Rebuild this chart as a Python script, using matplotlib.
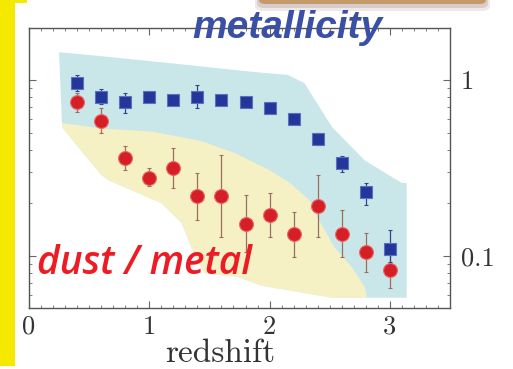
import numpy as np
import matplotlib
matplotlib.use("Agg")
import matplotlib.pyplot as plt
from matplotlib.patches import Rectangle, FancyBboxPatch
from matplotlib.ticker import FixedLocator, MultipleLocator, NullFormatter

# redshift bins
z = [0.4, 0.6, 0.8, 1.0, 1.2, 1.4, 1.6, 1.8, 2.0, 2.2, 2.4, 2.6, 2.8, 3.0]

# metallicity (blue squares) with lower / upper ends of the bars
metal = [0.96, 0.80, 0.75, 0.80, 0.77, 0.80, 0.77, 0.75, 0.69, 0.60, 0.46, 0.34, 0.23, 0.11]
metal_lo = [0.87, 0.73, 0.65, 0.76, 0.72, 0.69, 0.72, 0.70, 0.65, 0.56, 0.43, 0.30, 0.195, 0.093]
metal_hi = [1.07, 0.89, 0.84, 0.84, 0.82, 0.94, 0.82, 0.80, 0.74, 0.64, 0.50, 0.37, 0.26, 0.14]

# dust-to-metal ratio (red circles)
dust = [0.75, 0.585, 0.36, 0.277, 0.316, 0.219, 0.219, 0.152, 0.171, 0.133, 0.192, 0.133, 0.105, 0.083]
dust_lo = [0.658, 0.50, 0.308, 0.25, 0.243, 0.16, 0.128, 0.105, 0.128, 0.099, 0.128, 0.099, 0.081, 0.066]
dust_hi = [0.844, 0.693, 0.422, 0.316, 0.411, 0.296, 0.375, 0.222, 0.228, 0.178, 0.289, 0.183, 0.135, 0.101]

# model envelope for metallicity
band_m_z = [0.25, 0.49, 1.16, 1.875, 2.15, 2.29, 2.52, 2.79, 3.10, 3.14]
band_m_hi = [1.44, 1.39, 1.25, 1.11, 1.07, 0.96, 0.54, 0.35, 0.26, 0.26]

# model envelope for dust / metal
band_d_z_hi = [0.275, 0.60, 1.02, 1.43, 1.71, 1.99, 2.16, 2.33, 2.41, 2.54, 2.68, 2.79, 2.81]
band_d_hi = [0.57, 0.53, 0.51, 0.45, 0.385, 0.31, 0.263, 0.208, 0.16, 0.112, 0.087, 0.067, 0.058]
band_d_z_lo = [0.275, 0.43, 0.60, 0.66, 1.10, 1.27, 1.35, 1.46, 1.74, 1.93, 2.52, 2.81, 3.14]
band_d_lo = [0.54, 0.40, 0.29, 0.27, 0.20, 0.154, 0.112, 0.080, 0.076, 0.068, 0.058, 0.058, 0.058]

yticks = [0.1, 1]
yticklabels = ["0.1", "1"]
xticks = [0, 1, 2, 3]

fig = plt.figure(figsize=(5.13, 3.69), dpi=100)
fig.patch.set_facecolor("white")

ax = fig.add_axes([29 / 513, 1 - 308 / 369, 421 / 513, 280 / 369])
ax.set_yscale("log")
ax.set_xlim(0, 3.5)
ax.set_ylim(0.0507, 1.975)

# metallicity envelope: upper edge from its own points, lower edge follows the dust band floor
poly_top = list(zip(band_m_z, band_m_hi))
poly_bot = list(zip(band_d_z_lo, band_d_lo))[::-1]
ax.fill(*zip(*(poly_top + poly_bot)), color="#c9e7e9", lw=0, zorder=1)

poly_top = list(zip(band_d_z_hi, band_d_hi))
poly_bot = list(zip(band_d_z_lo, band_d_lo))[::-1]
ax.fill(*zip(*(poly_top + poly_bot)), color="#f6f1c4", lw=0, zorder=2)

m = np.array(metal)
ax.errorbar(z, metal, yerr=[m - np.array(metal_lo), np.array(metal_hi) - m],
            fmt="s", ms=8.5, color="#23379b", mec="#5d6fbf", mew=0.8,
            ecolor="#33448f", elinewidth=0.9, capsize=1.5, zorder=4)
d = np.array(dust)
ax.errorbar(z, dust, yerr=[d - np.array(dust_lo), np.array(dust_hi) - d],
            fmt="o", ms=10, color="#d61e26", mec="#e86a6a", mew=0.8,
            ecolor="#9c6e60", elinewidth=0.9, capsize=1.5, zorder=3)

# ticks in the style of a journal figure: inward, on every side, labels on the right
ax.tick_params(which="both", direction="in", top=True, right=True, colors="#666666",
               labelleft=False, labelright=True, labelcolor="#333333")
ax.tick_params(which="major", length=5, width=0.8)
ax.tick_params(which="minor", length=2.5, width=0.6)
ax.xaxis.set_major_locator(FixedLocator(xticks))
ax.xaxis.set_minor_locator(MultipleLocator(0.1))
ax.set_xticklabels([str(t) for t in xticks], family="cmr10", fontsize=19)
ax.yaxis.set_major_locator(FixedLocator(yticks))
ax.yaxis.set_minor_formatter(NullFormatter())
ax.set_yticklabels(yticklabels, family="cmr10", fontsize=19)
ax.tick_params(axis="y", pad=8)
ax.tick_params(axis="x", pad=5)
for s in ax.spines.values():
    s.set_color("#555555")
    s.set_linewidth(1.0)

fig.text(220 / 513, 1 - 362 / 369, "redshift", family="cmr10", fontsize=24,
         ha="center", va="baseline", color="#333333")

fig.text(192 / 513, 1 - 38 / 369, "metallicity", family="Liberation Sans",
         weight="bold", style="italic", fontsize=28, color="#3a4fa6",
         ha="left", va="baseline", zorder=10)
fig.text(37 / 513, 1 - 274 / 369, "dust / metal", family="Open Sans",
         weight="semibold", style="italic", fontsize=28, color="#ec1c24",
         ha="left", va="baseline", zorder=10)

# yellow side strip and the tan tab peeking in at the top
fig.patches.append(Rectangle((0, 3 / 369), 15 / 513, 363 / 369, transform=fig.transFigure,
                             color="#f6e900", lw=0, zorder=0))
fig.patches.append(Rectangle((0, 1 - 3 / 369), 27 / 513, 3 / 369, transform=fig.transFigure,
                             color="#f6e900", lw=0, zorder=0))
fig.patches.append(FancyBboxPatch((255 / 513, 1 - 11 / 369), 235 / 513, 20 / 369,
                                  boxstyle="round,pad=0,rounding_size=0.015",
                                  transform=fig.transFigure, color="#eee8e8", lw=0, zorder=0))
fig.patches.append(FancyBboxPatch((257 / 513, 1 - 8 / 369), 231 / 513, 20 / 369,
                                  boxstyle="round,pad=0,rounding_size=0.013",
                                  transform=fig.transFigure, color="#d8cccc", lw=0, zorder=0))
fig.patches.append(FancyBboxPatch((259 / 513, 1 - 4 / 369), 227 / 513, 20 / 369,
                                  boxstyle="round,pad=0,rounding_size=0.012",
                                  transform=fig.transFigure, color="#c49b68", lw=0, zorder=0))

fig.savefig("out.png", dpi=100)
